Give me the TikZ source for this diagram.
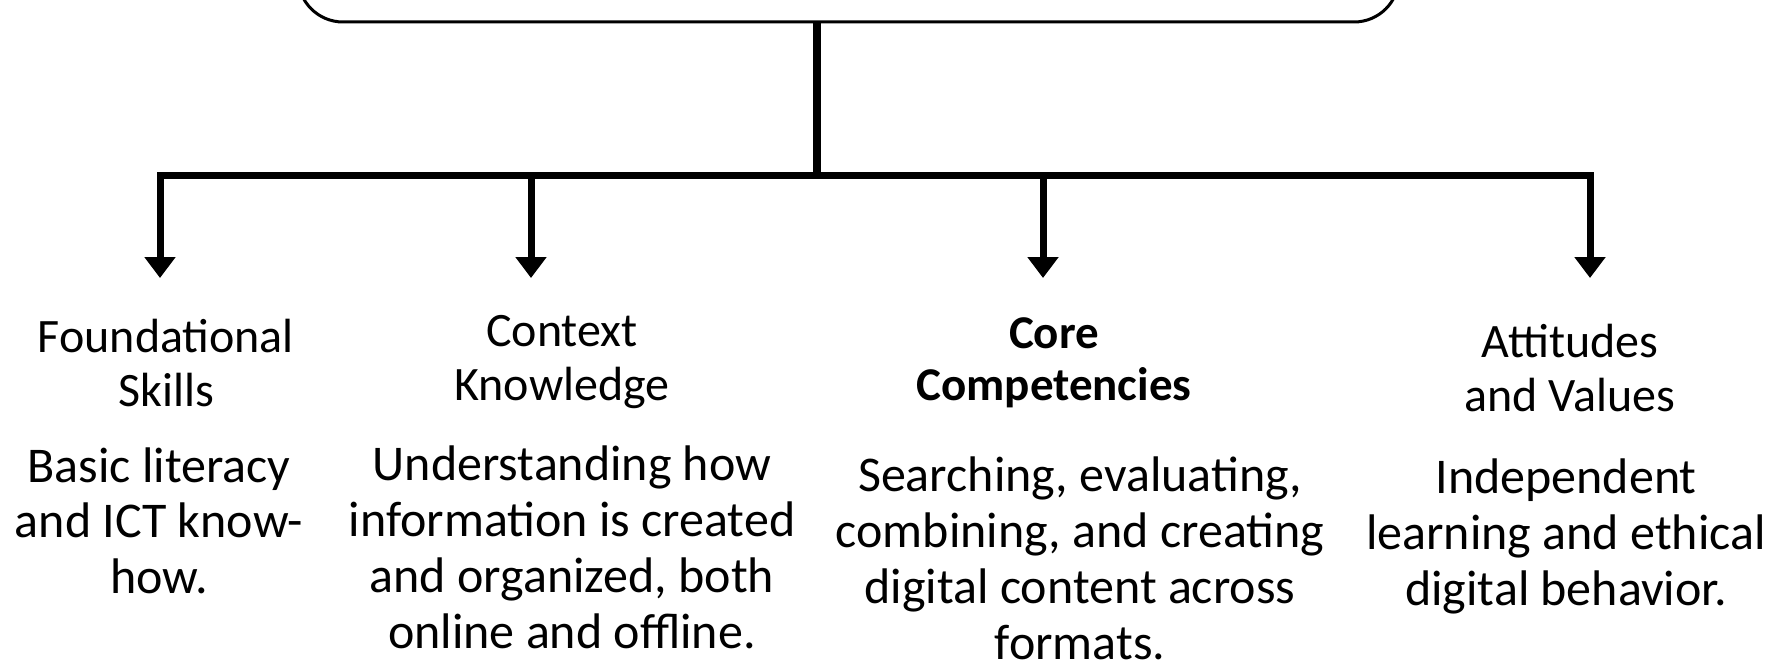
\documentclass[tikz,border=0pt]{standalone}
\usepackage{fontspec}
\setmainfont{Carlito}
\usetikzlibrary{arrows.meta}
\tikzset{
  conn/.style={line width=7pt, draw=black},
  arrowline/.style={conn, -{Triangle[width=30pt,length=21pt]}},
  headtxt/.style={align=center, anchor=base, inner sep=0pt, font=\fontsize{48}{54}\selectfont},
  bodytxt/.style={align=center, anchor=base, inner sep=0pt, font=\fontsize{50}{56}\selectfont},
  topbox/.style={draw=black, line width=3pt, rounded corners=45pt, minimum width=1101pt, minimum height=200pt, inner sep=0pt, outer sep=0pt, anchor=south}
}
\begin{document}
\begin{tikzpicture}[x=1pt,y=-1pt]
\useasboundingbox (0,0) rectangle (1768,666);
\clip (0,0) rectangle (1768,666);
\fill[white] (0,0) rectangle (1768,666);
% top box (cut off by the frame)
\node[topbox] (top) at (848.5,22) {};
% junctions
\coordinate (jc) at (817,175);
\coordinate (j1) at (160,175);
\coordinate (j2) at (531,175);
\coordinate (j3) at (1043,175);
\coordinate (j4) at (1590,175);
% arrow tips
\coordinate (t1) at (160,278);
\coordinate (t2) at (531,278);
\coordinate (t3) at (1043,278);
\coordinate (t4) at (1590,278);
% connectors
\draw[conn, line width=7.5pt] (jc |- top.south) -- (jc);
\draw[conn, line cap=rect] (j1) -- (j4);
\draw[arrowline] (j1) -- (t1);
\draw[arrowline] (j2) -- (t2);
\draw[arrowline] (j3) -- (t3);
\draw[arrowline] (j4) -- (t4);
% headings (anchor = baseline of the last line)
\node[headtxt] (h1) at (166,406) {Foundational\\Skills};
\node[headtxt] (h2) at (562,400) {Context\\Knowledge};
\node[headtxt, font=\fontsize{47}{52}\selectfont\bfseries] (h3) at (1054,400) {Core\\Competencies};
\node[headtxt] (h4) at (1570,411) {Attitudes\\and Values};
% descriptions (anchor = baseline of the last line)
\node[bodytxt, font=\fontsize{50}{55.5}\selectfont] (b1) at (159,593) {Basic literacy\\and ICT know-\\how.};
\node[bodytxt] (b2) at (572,648) {Understanding how\\information is created\\and organized, both\\online and offline.};
\node[bodytxt, font=\fontsize{50}{56}\selectfont] (b3) at (1080,659) {Searching, evaluating,\\combining, and creating\\digital content across\\formats.};
\node[bodytxt] (b4) at (1566,605) {Independent\\learning and ethical\\digital behavior.};
\end{tikzpicture}
\end{document}
